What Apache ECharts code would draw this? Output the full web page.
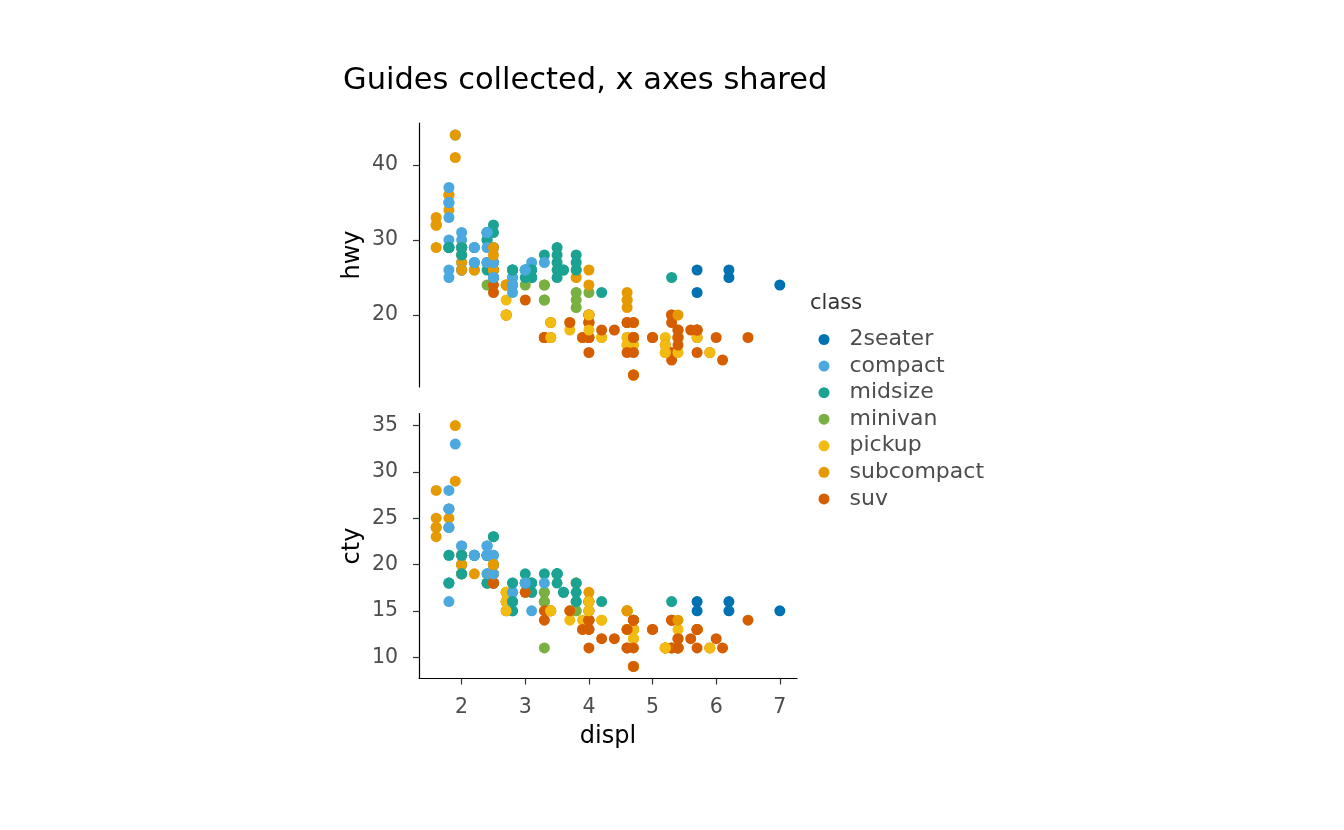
<!DOCTYPE html>
<html>
<head>
<meta charset="utf-8">
<script src="https://cdn.jsdelivr.net/npm/echarts@6.0.0/dist/echarts.min.js"></script>
<style>
  html, body { margin: 0; padding: 0; background: #fff; }
  #chart { width: 1344px; height: 830px; }
</style>
</head>
<body>
<div id="chart"></div>
<script>
// mpg rows, kept in data order so overlapping points stack the same way
var displ = [
  1.8, 1.8, 2.0, 2.0, 2.8, 2.8, 3.1, 1.8, 1.8, 2.0, 2.0, 2.8, 2.8, 3.1, 3.1, 2.8, 3.1, 4.2,
  5.3, 5.3, 5.3, 5.7, 6.0, 5.7, 5.7, 6.2, 6.2, 7.0, 5.3, 5.3, 5.7, 6.5,
  2.4, 2.4, 3.1, 3.5, 3.6,
  2.4, 3.0, 3.3, 3.3, 3.3, 3.3, 3.3, 3.8, 3.8, 3.8, 4.0,
  3.7, 3.7, 3.9, 3.9, 4.7, 4.7, 4.7, 5.2, 5.2,
  3.9, 4.7, 4.7, 4.7, 5.2, 5.7, 5.9,
  4.7, 4.7, 4.7, 4.7, 4.7, 4.7, 5.2, 5.2, 5.7, 5.9,
  4.6, 5.4, 5.4, 4.0, 4.0, 4.0, 4.0, 4.6, 5.0,
  4.2, 4.2, 4.6, 4.6, 4.6, 5.4, 5.4,
  3.8, 3.8, 4.0, 4.0, 4.6, 4.6, 4.6, 4.6, 5.4,
  1.6, 1.6, 1.6, 1.6, 1.6, 1.8, 1.8, 1.8, 2.0,
  2.4, 2.4, 2.4, 2.4, 2.5, 2.5, 3.3,
  2.0, 2.0, 2.0, 2.0, 2.7, 2.7, 2.7,
  3.0, 3.7, 4.0, 4.7, 4.7, 4.7, 5.7, 6.1,
  4.0, 4.2, 4.4, 4.6, 5.4, 5.4, 5.4, 4.0, 4.0, 4.6, 5.0,
  2.4, 2.4,
  2.5, 2.5, 3.5, 3.5, 3.0, 3.0, 3.5,
  3.3, 3.3, 4.0, 5.6,
  3.1, 3.8, 3.8, 3.8, 5.3,
  2.5, 2.5, 2.5, 2.5, 2.5, 2.5,
  2.2, 2.2, 2.5, 2.5,
  2.5, 2.5, 2.5, 2.5,
  2.7, 2.7, 3.4, 3.4, 4.0, 4.7,
  2.2, 2.2, 2.4, 2.4, 3.0, 3.0, 3.5,
  2.2, 2.2, 2.4, 2.4, 3.0, 3.0, 3.3, 1.8, 1.8, 1.8, 1.8, 1.8,
  4.7, 5.7,
  2.7, 2.7, 2.7, 3.4, 3.4, 4.0, 4.0,
  2.0, 2.0, 2.0, 2.0, 2.8, 1.9, 2.0, 2.0, 2.0, 2.0, 2.5, 2.5, 2.8, 2.8,
  1.9, 1.9, 2.0, 2.0, 2.5, 2.5,
  1.8, 1.8, 2.0, 2.0, 2.8, 2.8, 3.6
];

var cty = [
  18, 21, 20, 21, 16, 18, 18, 18, 16, 20, 19, 15, 17, 17, 15, 15, 17, 16,
  14, 11, 14, 13, 12, 16, 15, 16, 15, 15, 14, 11, 11, 14,
  19, 22, 18, 18, 17,
  18, 17, 16, 16, 17, 17, 11, 15, 15, 16, 16,
  15, 14, 13, 14, 14, 14, 9, 11, 11,
  13, 13, 9, 13, 11, 13, 11,
  12, 9, 13, 13, 12, 9, 11, 11, 13, 11,
  11, 11, 12, 14, 15, 14, 13, 13, 13,
  14, 14, 13, 13, 13, 11, 13,
  18, 18, 17, 16, 15, 15, 15, 15, 14,
  28, 24, 25, 23, 24, 26, 25, 24, 21,
  18, 18, 21, 21, 18, 18, 19,
  19, 19, 20, 20, 17, 16, 17,
  17, 15, 15, 14, 9, 14, 13, 11,
  11, 12, 12, 11, 11, 11, 12, 14, 13, 13, 13,
  21, 19,
  23, 23, 19, 19, 18, 19, 19,
  14, 15, 14, 12,
  18, 16, 17, 18, 16,
  18, 18, 20, 19, 20, 18,
  21, 19, 19, 19,
  20, 20, 19, 20,
  15, 16, 15, 15, 16, 14,
  21, 21, 21, 21, 18, 18, 19,
  21, 21, 21, 22, 18, 18, 18, 24, 24, 26, 28, 26,
  11, 13,
  15, 16, 17, 15, 15, 15, 16,
  21, 19, 21, 22, 17, 33, 21, 19, 22, 21, 21, 21, 16, 17,
  35, 29, 21, 19, 20, 20,
  21, 18, 19, 21, 16, 18, 17
];

var hwy = [
  29, 29, 31, 30, 26, 26, 27, 26, 25, 28, 27, 25, 25, 25, 25, 24, 25, 23,
  20, 15, 20, 17, 17, 26, 23, 26, 25, 24, 19, 14, 15, 17,
  27, 30, 26, 29, 26,
  24, 24, 22, 22, 24, 24, 17, 22, 21, 23, 23,
  19, 18, 17, 17, 19, 19, 12, 17, 15,
  17, 17, 12, 17, 16, 18, 15,
  16, 12, 17, 17, 16, 12, 15, 16, 17, 15,
  17, 17, 18, 17, 19, 17, 19, 19, 17,
  17, 17, 16, 16, 17, 15, 17,
  26, 25, 26, 24, 21, 22, 23, 22, 20,
  33, 32, 32, 29, 32, 34, 36, 36, 29,
  26, 27, 30, 31, 26, 26, 28,
  26, 29, 28, 27, 24, 24, 24,
  22, 19, 20, 17, 12, 19, 18, 14,
  15, 18, 18, 15, 17, 16, 18, 17, 19, 19, 17,
  29, 27,
  31, 32, 27, 26, 26, 25, 25,
  17, 17, 20, 18,
  26, 26, 27, 28, 25,
  25, 24, 27, 25, 26, 23,
  26, 26, 26, 26,
  25, 27, 25, 27,
  20, 20, 19, 17, 20, 17,
  29, 27, 31, 31, 26, 26, 28,
  27, 29, 31, 31, 26, 26, 27, 30, 33, 35, 37, 35,
  15, 18,
  20, 20, 22, 17, 19, 18, 20,
  29, 26, 29, 29, 24, 44, 29, 26, 29, 29, 29, 29, 23, 24,
  44, 41, 29, 26, 28, 29,
  29, 29, 28, 29, 26, 26, 26
];

var carClass = [
  'compact', 'compact', 'compact', 'compact', 'compact', 'compact', 'compact', 'compact',
  'compact', 'compact', 'compact', 'compact', 'compact', 'compact', 'compact',
  'midsize', 'midsize', 'midsize',
  'suv', 'suv', 'suv', 'suv', 'suv',
  '2seater', '2seater', '2seater', '2seater', '2seater',
  'suv', 'suv', 'suv', 'suv',
  'midsize', 'midsize', 'midsize', 'midsize', 'midsize',
  'minivan', 'minivan', 'minivan', 'minivan', 'minivan', 'minivan', 'minivan', 'minivan',
  'minivan', 'minivan', 'minivan',
  'pickup', 'pickup', 'pickup', 'pickup', 'pickup', 'pickup', 'pickup', 'pickup', 'pickup',
  'suv', 'suv', 'suv', 'suv', 'suv', 'suv', 'suv',
  'pickup', 'pickup', 'pickup', 'pickup', 'pickup', 'pickup', 'pickup', 'pickup', 'pickup', 'pickup',
  'suv', 'suv', 'suv', 'suv', 'suv', 'suv', 'suv', 'suv', 'suv',
  'pickup', 'pickup', 'pickup', 'pickup', 'pickup', 'pickup', 'pickup',
  'subcompact', 'subcompact', 'subcompact', 'subcompact', 'subcompact', 'subcompact',
  'subcompact', 'subcompact', 'subcompact', 'subcompact', 'subcompact', 'subcompact',
  'subcompact', 'subcompact', 'subcompact', 'subcompact', 'subcompact', 'subcompact',
  'midsize', 'midsize', 'midsize', 'midsize', 'midsize', 'midsize', 'midsize',
  'subcompact', 'subcompact', 'subcompact', 'subcompact', 'subcompact', 'subcompact', 'subcompact',
  'suv', 'suv', 'suv', 'suv', 'suv', 'suv', 'suv', 'suv', 'suv', 'suv',
  'suv', 'suv', 'suv', 'suv', 'suv', 'suv', 'suv', 'suv', 'suv',
  'compact', 'compact',
  'midsize', 'midsize', 'midsize', 'midsize', 'midsize', 'midsize', 'midsize',
  'suv', 'suv', 'suv', 'suv',
  'midsize', 'midsize', 'midsize', 'midsize', 'midsize',
  'suv', 'suv', 'suv', 'suv', 'suv', 'suv',
  'subcompact', 'subcompact', 'subcompact', 'subcompact',
  'compact', 'compact', 'compact', 'compact',
  'suv', 'suv', 'suv', 'suv', 'suv', 'suv',
  'midsize', 'midsize', 'midsize', 'midsize', 'midsize', 'midsize', 'midsize',
  'compact', 'compact', 'compact', 'compact', 'compact', 'compact',
  'compact', 'compact', 'compact', 'compact', 'compact', 'compact',
  'suv', 'suv',
  'pickup', 'pickup', 'pickup', 'pickup', 'pickup', 'pickup', 'pickup',
  'compact', 'compact', 'compact', 'compact', 'compact', 'compact', 'compact',
  'compact', 'compact', 'compact', 'compact', 'compact', 'compact', 'compact',
  'subcompact', 'subcompact', 'subcompact', 'subcompact', 'subcompact', 'subcompact',
  'midsize', 'midsize', 'midsize', 'midsize', 'midsize', 'midsize', 'midsize'
];

var classes = ['2seater', 'compact', 'midsize', 'minivan', 'pickup', 'subcompact', 'suv'];
var classColors = ['#0072B2', '#4BA9E0', '#1AA393', '#78B041', '#F2BB12', '#E69A02', '#D55E00'];

var xTicks = [2, 3, 4, 5, 6, 7];
var hwyTicks = [20, 30, 40];
var ctyTicks = [10, 15, 20, 25, 30, 35];

var FONT = 'DejaVu Sans';

// [displ, y, class index]
var hwyData = displ.map(function(d, i) {
  return [d, hwy[i], classes.indexOf(carClass[i])];
});
var ctyData = displ.map(function(d, i) {
  return [d, cty[i], classes.indexOf(carClass[i])];
});

function yAxis(grid, name, ticks, min, max) {
  return {
    type: 'value',
    gridIndex: grid,
    min: min,
    max: max,
    name: name,
    nameLocation: 'middle',
    nameGap: 54,
    nameTextStyle: { fontFamily: FONT, fontSize: 24, color: '#000' },
    axisLine: { show: true, lineStyle: { color: '#000', width: 1.2 } },
    axisTick: { show: true, length: 6, customValues: ticks, lineStyle: { color: '#333', width: 1.2 } },
    axisLabel: { customValues: ticks, margin: 21, fontFamily: FONT, fontSize: 20.5, color: '#4d4d4d' },
    splitLine: { show: false }
  };
}

var chart = echarts.init(document.getElementById('chart'));

chart.setOption({
  animation: false,
  backgroundColor: '#fff',
  title: [
    {
      text: 'Guides collected, x axes shared',
      left: 343,
      top: 66,
      padding: 0,
      textStyle: { fontFamily: FONT, fontSize: 30.5, fontWeight: 'normal', color: '#000' }
    },
    {
      text: 'class',
      left: 810,
      top: 293,
      padding: 0,
      textStyle: { fontFamily: FONT, fontSize: 21, fontWeight: 'normal', color: '#333' }
    }
  ],
  grid: [
    { left: 419, top: 123, width: 378, height: 264 },
    { left: 419, top: 413.5, width: 378, height: 265 }
  ],
  xAxis: [
    { type: 'value', gridIndex: 0, min: 1.33, max: 7.27, show: false, splitLine: { show: false } },
    {
      type: 'value',
      gridIndex: 1,
      min: 1.33,
      max: 7.27,
      name: 'displ',
      nameLocation: 'middle',
      nameGap: 46,
      nameTextStyle: { fontFamily: FONT, fontSize: 24, color: '#000' },
      axisLine: { show: true, lineStyle: { color: '#000', width: 1.2 } },
      axisTick: { show: true, length: 6, customValues: xTicks, lineStyle: { color: '#333', width: 1.2 } },
      axisLabel: { customValues: xTicks, margin: 19, fontFamily: FONT, fontSize: 20.5, color: '#4d4d4d' },
      splitLine: { show: false }
    }
  ],
  yAxis: [
    yAxis(0, 'hwy', hwyTicks, 10.4, 45.6),
    yAxis(1, 'cty', ctyTicks, 7.7, 36.3)
  ],
  visualMap: {
    type: 'piecewise',
    dimension: 2,
    seriesIndex: [0, 1],
    orient: 'vertical',
    inverse: true,
    align: 'left',
    left: 818.5,
    top: 328.5,
    padding: 0,
    itemSymbol: 'circle',
    itemWidth: 11,
    itemHeight: 11,
    itemGap: 4.57,
    textGap: 20,
    hoverLink: false,
    textStyle: { fontFamily: FONT, fontSize: 22, color: '#4d4d4d' },
    pieces: classes.map(function(c, i) {
      return { value: i, label: c, color: classColors[i] };
    })
  },
  series: [
    {
      type: 'scatter',
      xAxisIndex: 0,
      yAxisIndex: 0,
      symbolSize: 11,
      itemStyle: { opacity: 1 },
      data: hwyData
    },
    {
      type: 'scatter',
      xAxisIndex: 1,
      yAxisIndex: 1,
      symbolSize: 11,
      itemStyle: { opacity: 1 },
      data: ctyData
    }
  ]
});
</script>
</body>
</html>
